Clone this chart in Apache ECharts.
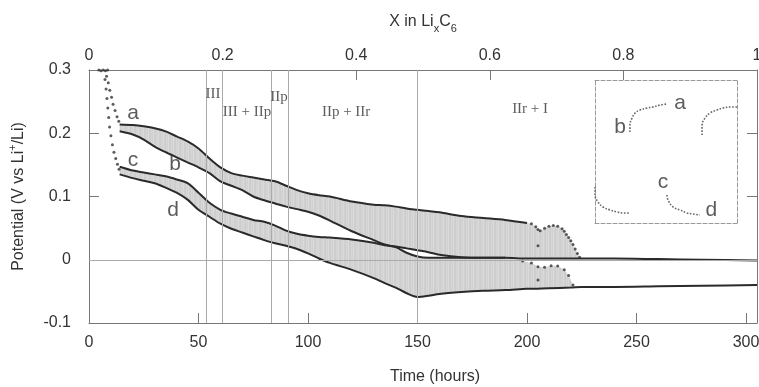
<!DOCTYPE html>
<html><head><meta charset="utf-8">
<script src="https://cdn.jsdelivr.net/npm/echarts@6/dist/echarts.min.js"></script>
<style>html,body{margin:0;padding:0;background:#fff}#c{width:759px;height:387px}</style>
</head><body><div id="c"></div><script>
// ---- main data (time in hours, potential in V) ----
const hours = [14,20,25,30,35,40,45,50,55,60,65,70,75,80,85,90,95,100,105,110,120,130,135,140,145,150,155,160,170,180,190,200,210,220,225,240,260,280,305];
const lineA = [0.214,0.213,0.211,0.208,0.203,0.195,0.187,0.176,0.160,0.146,0.137,0.133,0.130,0.127,0.124,0.117,0.110,0.105,0.102,0.100,0.092,0.087,0.086,0.084,0.081,0.079,0.077,0.075,0.069,0.066,0.063,0.058,null,null,null,null,null,null,null];
const lineB = [0.203,0.198,0.190,0.179,0.170,0.162,0.154,0.146,0.137,0.124,0.117,0.110,0.100,0.094,0.089,0.084,0.080,0.076,0.070,0.062,0.045,0.031,0.024,0.020,0.011,0.005,0.003,0.003,0.003,0.003,0.003,0.002,0.002,0.002,0.002,0.002,0.001,0.000,-0.001];
const lineC = [0.147,0.141,0.138,0.135,0.132,0.127,0.121,0.106,0.090,0.079,0.073,0.068,0.063,0.060,0.054,0.046,0.041,0.038,0.036,0.035,0.032,0.027,0.023,0.021,0.018,0.015,0.012,0.008,0.004,0.003,0.003,null,null,null,null,null,null,null,null];
const lineD = [0.135,0.129,0.125,0.121,0.114,0.106,0.095,0.079,0.068,0.057,0.049,0.043,0.037,0.031,0.026,0.022,0.017,0.010,0.002,-0.005,-0.016,-0.029,-0.037,-0.044,-0.053,-0.059,-0.057,-0.054,-0.051,-0.049,-0.048,-0.046,-0.045,-0.044,-0.043,-0.043,-0.042,-0.041,-0.040];
// dotted end of the upper envelope (a) and of the lower band top
const aDotT = [202,204,205,206,208,210,212,214,216,217,218,219,220,221,222,223,224];
const aDotV = [0.057,0.052,0.048,0.046,0.050,0.053,0.054,0.053,0.049,0.045,0.040,0.035,0.030,0.024,0.017,0.010,0.004];
const lowDotT = [198,202,205,208,211,214,217,219,221];
const lowDotV = [-0.002,-0.005,-0.011,-0.012,-0.0095,-0.010,-0.016,-0.025,-0.040];
const strayDotT = [205,205];
const strayDotV = [0.022,-0.032];
// initial fast descent (dots)
const startDotT = [4.5,5.5,6.5,7.5,8.5,8.0,8.8,9.5,10.3,11.0,11.9,12.8,13.6,7.3,7.8,8.2,8.6,9.0,9.4,10.0,10.7,11.4,12.2,13.0,13.7];
const startDotV = [0.300,0.299,0.300,0.299,0.300,0.290,0.280,0.268,0.257,0.246,0.236,0.226,0.219,0.285,0.270,0.255,0.240,0.225,0.210,0.196,0.182,0.170,0.160,0.151,0.143];
// phase boundaries
const phaseBounds = [53.5,61,83,91,150];
const phaseNames = ['III','III + IIp','IIp','IIp + IIr','IIr + I'];
const phaseLabelT = [56.6,72.1,86.8,117.4,201.4];
const phaseLabelV = [0.262,0.233,0.257,0.233,0.238];
const curveNames = ['a','b','c','d'];
const curveLabelT = [20.1,39.3,20.1,38.4];
const curveLabelV = [0.232,0.151,0.157,0.078];
// axis ticks
const timeTicks = [0,50,100,150,200,250,300];
const xLiTicks = [0,0.2,0.4,0.6,0.8,1];
const potTicks = [-0.1,0,0.1,0.2,0.3];
// ---- inset (schematic) ----
const insBAx = [0.246,0.246,0.261,0.282,0.317,0.366,0.408,0.458,0.507];
const insBAy = [0.636,0.685,0.734,0.769,0.790,0.804,0.811,0.825,0.832];
const insRx = [0.754,0.754,0.775,0.810,0.859,0.901,0.951,1.0];
const insRy = [0.615,0.685,0.734,0.769,0.790,0.804,0.811,0.811];
const insLx = [0,0,0.021,0.056,0.106,0.155,0.197,0.246];
const insLy = [0.252,0.196,0.147,0.112,0.091,0.077,0.070,0.070];
const insCDx = [0.507,0.514,0.549,0.599,0.648,0.690,0.739];
const insCDy = [0.196,0.161,0.112,0.091,0.070,0.063,0.056];
const insLabelX = [0.60,0.176,0.479,0.82];
const insLabelY = [0.84,0.671,0.287,0.09];

// ---- build helpers ----
const zip = (t, v) => t.map((x, i) => [x, v[i]]).filter(p => p[1] !== null && p[1] !== undefined);
const upperTop = zip(hours, lineA).concat(zip(aDotT, aDotV));
const upperBottom = hours.map((t, i) => [t, lineC[i] === null ? lineB[i] : Math.max(lineB[i], lineC[i])]).filter(p => p[0] <= 225);
const lowerTop = hours.map((t, i) => lineC[i] === null ? null : [t, Math.min(lineB[i], lineC[i])]).filter(p => p).concat(zip(lowDotT, lowDotV));
const lowerBottom = zip(hours, lineD).filter(p => p[0] <= 221);
const polys = [upperTop.concat(upperBottom.slice().reverse()), lowerTop.concat(lowerBottom.slice().reverse())];

// soft hatched grey texture for the cycling bands
const tex = document.createElement('canvas');
tex.width = 5; tex.height = 3;
(function () {
  const g = tex.getContext('2d');
  const cols = ['#cdcdcd', '#d6d6d6', '#d1d1d1', '#dadada', '#cfcfcf'];
  cols.forEach((c, i) => { g.fillStyle = c; g.fillRect(i, 0, 1, 3); });
})();

const TXT = '#333';
const AX = '#777';
const LINE = '#2a2a2a';
const fmtNum = v => Math.abs(v) < 1e-9 ? '0' : String(Math.round(v * 10) / 10);
const insetAxis = (pos, grid) => ({type: 'value', gridIndex: grid, position: pos, min: 0, max: 1,
  axisLine: {show: true, onZero: false, lineStyle: {color: '#999', type: 'dashed', width: 1}},
  axisTick: {show: false}, axisLabel: {show: false}, splitLine: {show: false}});

const chart = echarts.init(document.getElementById('c'));
chart.setOption({
  animation: false,
  backgroundColor: '#fff',
  textStyle: {fontFamily: 'Liberation Sans, Arial, sans-serif'},
  grid: [
    {left: 89, right: 2, top: 70, bottom: 64, outerBoundsMode: 'none', containLabel: false},
    {left: 595, top: 80, width: 142, height: 143, outerBoundsMode: 'none', containLabel: false}
  ],
  xAxis: [
    {type: 'value', gridIndex: 0, position: 'bottom', min: 0, max: 305, interval: 50,
     name: 'Time (hours)', nameLocation: 'middle', nameGap: 46,
     nameTextStyle: {fontSize: 16, color: TXT, padding: [0, 0, 0, 24]},
     axisLine: {show: true, onZero: false, lineStyle: {color: AX, width: 1}},
     axisTick: {show: true, inside: true, length: 10, lineStyle: {color: AX}},
     axisLabel: {fontSize: 16, color: TXT, margin: 12, showMaxLabel: false,
       formatter: v => timeTicks.indexOf(v) >= 0 ? String(v) : ''},
     splitLine: {show: false}},
    {type: 'value', gridIndex: 0, position: 'top', min: 0, max: 1, interval: 0.2,
     name: 'X in Li{sub|x}C{sub|6}', nameLocation: 'middle', nameGap: 36,
     nameTextStyle: {fontSize: 16, color: TXT, lineHeight: 24,
       rich: {sub: {fontSize: 11, lineHeight: 11, verticalAlign: 'bottom', color: TXT}}},
     axisLine: {show: true, onZero: false, lineStyle: {color: AX, width: 1}},
     axisTick: {show: true, inside: true, length: 10, lineStyle: {color: AX}},
     axisLabel: {fontSize: 16, color: TXT, margin: 6,
       formatter: v => { const k = xLiTicks.findIndex(t => Math.abs(t - v) < 1e-9); return k >= 0 ? String(xLiTicks[k]) : ''; }},
     splitLine: {show: false}},
    insetAxis('bottom', 1),
    insetAxis('top', 1)
  ],
  yAxis: [
    {type: 'value', gridIndex: 0, position: 'left', min: -0.1, max: 0.3, interval: 0.1,
     name: 'Potential (V vs Li{sup|+}/Li)', nameLocation: 'middle', nameGap: 58, nameRotate: 90,
     nameTextStyle: {fontSize: 16, color: TXT, lineHeight: 24,
       rich: {sup: {fontSize: 11, lineHeight: 11, verticalAlign: 'top', color: TXT}}},
     axisLine: {show: true, onZero: false, lineStyle: {color: AX, width: 1}},
     axisTick: {show: true, inside: true, length: 10, lineStyle: {color: AX}},
     axisLabel: {fontSize: 16, color: TXT, margin: 18, formatter: fmtNum},
     splitLine: {show: false}},
    {type: 'value', gridIndex: 0, position: 'right', min: -0.1, max: 0.3, interval: 0.1,
     axisLine: {show: true, onZero: false, lineStyle: {color: AX, width: 1}},
     axisTick: {show: true, inside: true, length: 10, lineStyle: {color: AX}},
     axisLabel: {show: false}, splitLine: {show: false}},
    insetAxis('left', 1),
    insetAxis('right', 1)
  ],
  series: [
    {type: 'custom', xAxisIndex: 0, yAxisIndex: 0, silent: true, z: 1,
     data: [[0, 0], [0, 0]],
     renderItem: (params, api) => ({type: 'polygon',
       shape: {points: polys[params.dataIndex].map(p => api.coord(p))},
       style: {fill: {image: tex, repeat: 'repeat'}}})},
    {type: 'line', xAxisIndex: 0, yAxisIndex: 0, data: [], silent: true, z: 2,
     markLine: {silent: true, symbol: 'none', label: {show: false},
       lineStyle: {color: '#aaa', width: 1, type: 'solid'},
       data: phaseBounds.map(x => ({xAxis: x})).concat([{yAxis: 0}])}},
    ...[lineA, lineB, lineC, lineD].map(arr => ({type: 'line', xAxisIndex: 0, yAxisIndex: 0, z: 3,
      data: zip(hours, arr), showSymbol: false, smooth: 0.3, silent: true,
      lineStyle: {color: LINE, width: 2}})),
    {type: 'scatter', xAxisIndex: 0, yAxisIndex: 0, z: 4, silent: true, symbolSize: 3,
     itemStyle: {color: '#333'},
     data: zip(startDotT, startDotV).concat(zip(aDotT, aDotV), zip(lowDotT, lowDotV), zip(strayDotT, strayDotV))},
    {type: 'scatter', xAxisIndex: 0, yAxisIndex: 0, z: 5, silent: true, symbolSize: 0,
     data: curveNames.map((n, i) => ({name: n, value: [curveLabelT[i], curveLabelV[i]]})),
     label: {show: true, position: 'inside', formatter: p => p.name, fontSize: 21, color: '#333'}},
    {type: 'scatter', xAxisIndex: 0, yAxisIndex: 0, z: 5, silent: true, symbolSize: 0,
     data: phaseNames.map((n, i) => ({name: n, value: [phaseLabelT[i], phaseLabelV[i]]})),
     label: {show: true, position: 'inside', formatter: p => p.name, fontSize: 15, color: '#333',
       fontFamily: 'Liberation Serif, Times New Roman, serif'}},
    ...[[insBAx, insBAy], [insRx, insRy], [insLx, insLy], [insCDx, insCDy]].map(([xs, ys]) => ({
      type: 'line', xAxisIndex: 2, yAxisIndex: 2, data: zip(xs, ys), showSymbol: false, smooth: 0.4,
      silent: true, lineStyle: {color: '#666', width: 1.6, type: 'dotted'}})),
    {type: 'scatter', xAxisIndex: 2, yAxisIndex: 2, silent: true, symbolSize: 0,
     data: curveNames.map((n, i) => ({name: n, value: [insLabelX[i], insLabelY[i]]})),
     label: {show: true, position: 'inside', formatter: p => p.name, fontSize: 21, color: '#333'}}
  ]
});
</script></body></html>
